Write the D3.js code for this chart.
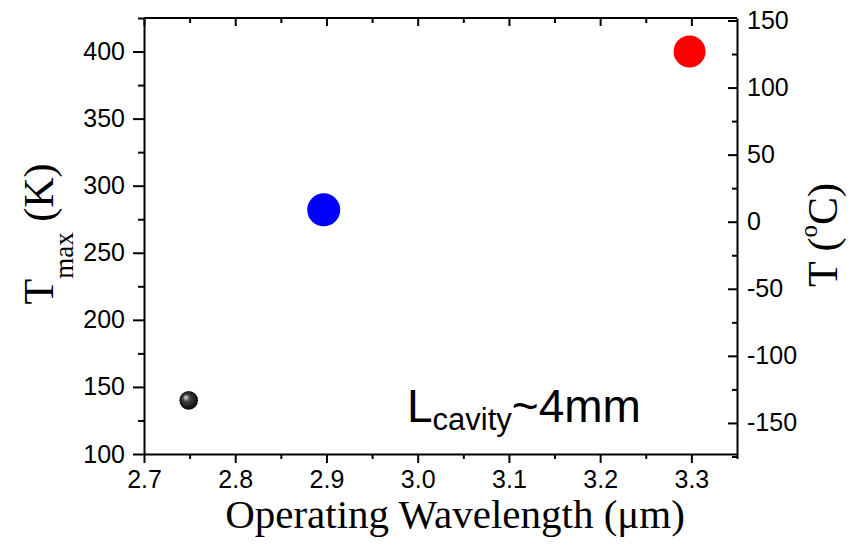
<!DOCTYPE html>
<html>
<head>
<meta charset="utf-8">
<script src="https://cdn.jsdelivr.net/npm/d3@7"></script>
<style>
  body { margin: 0; background: #fff; }
  svg { display: block; }
  .domain, .tick line { stroke: #000; stroke-width: 2px; }
</style>
</head>
<body>
<div id="chart"></div>
<script>
// data
var wavelengths = [2.749, 2.897, 3.298];
var tmaxK = [140, 282, 400];
var colors = ['black', '#0000ff', '#ff0000'];
var sizes = [9.3, 16.5, 16];

var xTicks = [2.7, 2.8, 2.9, 3.0, 3.1, 3.2, 3.3];
var yTicks = [100, 150, 200, 250, 300, 350, 400];
var cTicks = [-150, -100, -50, 0, 50, 100, 150];

var width = 852, height = 546;
var mLeft = 144, mRight = 737, mTop = 18, mBottom = 454;
var sans = 'Arial, "Liberation Sans", sans-serif';
var serif = '"Liberation Serif", "Times New Roman", serif';

var svg = d3.select('#chart').append('svg').attr('width', width).attr('height', height);

var defs = svg.append('defs');
var grad = defs.append('radialGradient').attr('id', 'ball')
  .attr('cx', '50%').attr('cy', '50%').attr('r', '55%').attr('fx', '32%').attr('fy', '32%');
grad.append('stop').attr('offset', '0%').attr('stop-color', '#e8e8e8');
grad.append('stop').attr('offset', '35%').attr('stop-color', '#444');
grad.append('stop').attr('offset', '100%').attr('stop-color', '#000');

var x = d3.scaleLinear().domain([2.7, 3.35]).range([mLeft, mRight]);
var y = d3.scaleLinear().domain([100, 425]).range([mBottom, mTop]);
var yC = d3.scaleLinear().domain([100 - 273.15, 425 - 273.15]).range([mBottom, mTop]);

function minor(lo, hi, step) {
  return d3.range(Math.round((hi - lo) / step) + 1).map(function(i) { return lo + i * step; });
}
function noDomain(g) { g.select('.domain').remove(); }

// minor ticks
svg.append('g').attr('transform', 'translate(0,' + mBottom + ')')
  .call(d3.axisBottom(x).tickValues(minor(2.75, 3.35, 0.1)).tickSize(5).tickFormat('')).call(noDomain);
svg.append('g').attr('transform', 'translate(0,' + mTop + ')')
  .call(d3.axisBottom(x).tickValues(minor(2.75, 3.25, 0.1)).tickSize(5).tickFormat('')).call(noDomain);
svg.append('g').attr('transform', 'translate(0,' + mTop + ')')
  .call(d3.axisBottom(x).tickValues(xTicks).tickSize(8).tickFormat('')).call(noDomain);
svg.append('g').attr('transform', 'translate(' + mLeft + ',0)')
  .call(d3.axisLeft(y).tickValues(minor(125, 425, 50)).tickSize(6).tickFormat('')).call(noDomain);
svg.append('g').attr('transform', 'translate(' + mRight + ',0)')
  .call(d3.axisLeft(yC).tickValues(minor(-175, 125, 50)).tickSize(5).tickFormat('')).call(noDomain);
svg.append('g').attr('transform', 'translate(' + mRight + ',0)')
  .call(d3.axisLeft(yC).tickValues(cTicks).tickSize(9).tickFormat('')).call(noDomain);

// major axes with labels
var xAxis = svg.append('g').attr('transform', 'translate(0,' + mBottom + ')')
  .call(d3.axisBottom(x).tickValues(xTicks).tickSize(9).tickPadding(7).tickSizeOuter(0).tickFormat(d3.format('.1f')));

var yAxis = svg.append('g').attr('transform', 'translate(' + mLeft + ',0)')
  .call(d3.axisLeft(y).tickValues(yTicks).tickSize(11).tickPadding(8).tickSizeOuter(0));

var cAxis = svg.append('g').attr('transform', 'translate(' + mRight + ',0)')
  .call(d3.axisRight(yC).tickValues(cTicks).tickSize(0).tickPadding(10).tickSizeOuter(0)
    .tickFormat(function(d) { return String(d); }));

[xAxis, yAxis, cAxis].forEach(function(g) {
  g.attr('font-family', sans).attr('font-size', 25);
  g.selectAll('.tick text').attr('fill', '#000');
});

svg.append('line').attr('x1', mLeft).attr('x2', mRight).attr('y1', mTop).attr('y2', mTop)
  .attr('stroke', '#000').attr('stroke-width', 2);

// points
svg.selectAll('circle.pt').data(wavelengths).enter().append('circle')
  .attr('class', 'pt')
  .attr('cx', function(d) { return x(d); })
  .attr('cy', function(d, i) { return y(tmaxK[i]); })
  .attr('r', function(d, i) { return sizes[i]; })
  .attr('fill', function(d, i) { return i === 0 ? 'url(#ball)' : colors[i]; });

// annotation
var note = svg.append('text').attr('x', 407).attr('y', 422)
  .attr('font-family', sans).attr('font-size', 46).attr('fill', '#000');
note.append('tspan').text('L');
note.append('tspan').attr('font-size', 31).attr('dy', 8).text('cavity');
note.append('tspan').attr('dy', -8).text('~4mm');

// axis titles
svg.append('text').attr('x', 455).attr('y', 528).attr('text-anchor', 'middle')
  .attr('font-family', serif).attr('font-size', 41).attr('fill', '#000')
  .text('Operating Wavelength (\u03bcm)');

var yl = svg.append('text').attr('transform', 'translate(53,234) rotate(-90)').attr('text-anchor', 'middle')
  .attr('font-family', serif).attr('font-size', 42).attr('fill', '#000');
yl.append('tspan').text('T');
yl.append('tspan').attr('font-size', 27).attr('dy', 20).text('max');
yl.append('tspan').attr('dy', -20).text(' (K)');

var yr = svg.append('text').attr('transform', 'translate(837,235) rotate(-90)').attr('text-anchor', 'middle')
  .attr('font-family', serif).attr('font-size', 42).attr('fill', '#000');
yr.append('tspan').text('T (');
yr.append('tspan').attr('font-size', 25).attr('dy', -20).text('o');
yr.append('tspan').attr('dy', 20).text('C)');
</script>
</body>
</html>
